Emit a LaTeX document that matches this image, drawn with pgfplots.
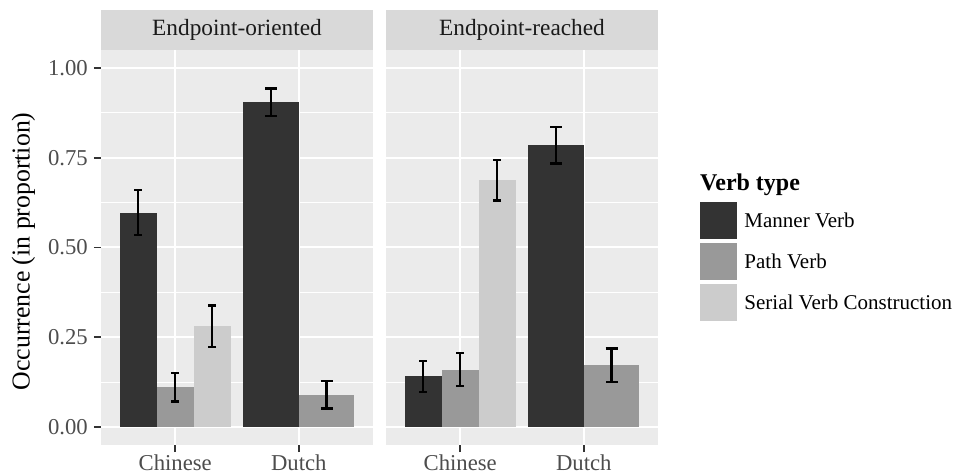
\documentclass[border=0pt]{standalone}
\usepackage{pgfplots}
\pgfplotsset{compat=1.18}
\usepackage{fontspec}
\setmainfont{Liberation Serif}

\definecolor{cManner}{HTML}{333333}
\definecolor{cPath}{HTML}{999999}
\definecolor{cSVC}{HTML}{CCCCCC}
\definecolor{panelbg}{HTML}{EBEBEB}
\definecolor{stripbg}{HTML}{D9D9D9}
\definecolor{ticktext}{HTML}{4D4D4D}
\definecolor{tickmark}{HTML}{333333}
\definecolor{striptext}{HTML}{1A1A1A}

\newcommand{\tickfont}{\fontsize{22.7}{26}\selectfont}
\newcommand{\stripfont}{\fontsize{23.3}{27}\selectfont}
\newcommand{\titlefont}{\fontsize{25.8}{29}\selectfont}
\newcommand{\legfont}{\fontsize{21}{24}\selectfont}
\newcommand{\legtitlefont}{\fontsize{24}{28}\selectfont\bfseries}

\pgfplotsset{
  facet/.style={
    scale only axis, width=272pt, height=395pt,
    xmin=0.4, xmax=2.6, ymin=-0.05, ymax=1.05,
    axis background/.style={fill=panelbg},
    axis line style={draw=none},
    xtick={1,2}, xticklabels={Chinese,Dutch},
    ytick={0,0.25,0.5,0.75,1},
    minor ytick={0.125,0.375,0.625,0.875},
    grid=both,
    major grid style={white, line width=2pt},
    minor grid style={white, line width=1pt},
    tick align=outside,
    major tick length=7pt, minor tick length=0pt,
    tick style={tickmark, line width=1.8pt},
    xtick pos=bottom, ytick pos=left,
    ticklabel style={font=\tickfont, text=ticktext, inner sep=0pt},
    xticklabel style={yshift=-3pt},
    yticklabel style={xshift=-6pt},
    /pgf/number format/assume math mode=true,
    y tick label style={/pgf/number format/.cd, fixed, fixed zerofill, precision=2, /tikz/.cd},
    clip=false,
  },
  % error bar whose cap width follows the bar width
  eb/.style={
    error bars/y dir=both, error bars/y explicit,
    error bars/error mark=|,
    error bars/error bar style={draw=black, solid, line width=2.4pt},
    error bars/error mark options={draw=black, solid, line width=2.4pt, mark size=#1},
  },
  barM/.style={ybar, bar shift=0pt, fill=cManner, draw=none, forget plot},
  barP/.style={ybar, bar shift=0pt, fill=cPath, draw=none, forget plot},
  barS/.style={ybar, bar shift=0pt, fill=cSVC, draw=none, forget plot},
  narrow/.style={bar width=0.3, eb=3.9pt},
  wide/.style={bar width=0.45, eb=5.9pt},
  keybox/.style={legend image code/.code={\fill[##1, draw=none] (0pt,-18.8pt) rectangle (37.6pt,18.8pt);}},
}

\begin{document}
\begin{tikzpicture}
\useasboundingbox (-101pt,-29pt) rectangle (857pt,445pt);

% Left facet: endpoint-oriented events
\begin{axis}[facet, at={(0pt,0pt)}, anchor=south west,
    ylabel={Occurrence (in proportion)},
    ylabel style={font=\titlefont, text=black, at={(axis description cs:-0.285,0.49)}, anchor=center}]
  \fill[stripbg] (rel axis cs:0,1) rectangle ([yshift=40pt]rel axis cs:1,1);
  \node[font=\stripfont, text=striptext] at ([yshift=20pt]rel axis cs:0.5,1) {Endpoint-oriented};
  % Chinese: three verb types side by side
  \addplot[barM, narrow] coordinates {(0.7,0.597) +- (0,0.063)};
  \addplot[barP, narrow] coordinates {(1.0,0.111) +- (0,0.040)};
  \addplot[barS, narrow] coordinates {(1.3,0.281) +- (0,0.058)};
  % Dutch: no serial verb constructions, two wider bars
  \addplot[barM, wide] coordinates {(1.775,0.905) +- (0,0.038)};
  \addplot[barP, wide] coordinates {(2.225,0.090) +- (0,0.038)};
\end{axis}

% Right facet: endpoint-reached events
\begin{axis}[facet, at={(285pt,0pt)}, anchor=south west,
    yticklabels={}, ytick style={draw=none},
    legend style={at={(axis description cs:1.154,0.616)}, anchor=north west,
      draw=none, fill=none, inner sep=0pt, outer sep=0pt,
      row sep=3.4pt, column sep=7pt, font=\legfont,
      nodes={inner sep=0pt, text=black}},
    legend cell align=left]
  \fill[stripbg] (rel axis cs:0,1) rectangle ([yshift=40pt]rel axis cs:1,1);
  \node[font=\stripfont, text=striptext] at ([yshift=20pt]rel axis cs:0.5,1) {Endpoint-reached};
  \addplot[barM, narrow] coordinates {(0.7,0.141) +- (0,0.043)};
  \addplot[barP, narrow] coordinates {(1.0,0.160) +- (0,0.046)};
  \addplot[barS, narrow] coordinates {(1.3,0.687) +- (0,0.056)};
  \addplot[barM, wide] coordinates {(1.775,0.785) +- (0,0.051)};
  \addplot[barP, wide] coordinates {(2.225,0.172) +- (0,0.047)};
  \addlegendimage{keybox, fill=cManner}
  \addlegendentry{Manner Verb}
  \addlegendimage{keybox, fill=cPath}
  \addlegendentry{Path Verb}
  \addlegendimage{keybox, fill=cSVC}
  \addlegendentry{Serial Verb Construction}
\end{axis}

\node[anchor=base west, font=\legtitlefont, inner sep=0pt] at (599pt,254pt) {Verb type};
\end{tikzpicture}
\end{document}
